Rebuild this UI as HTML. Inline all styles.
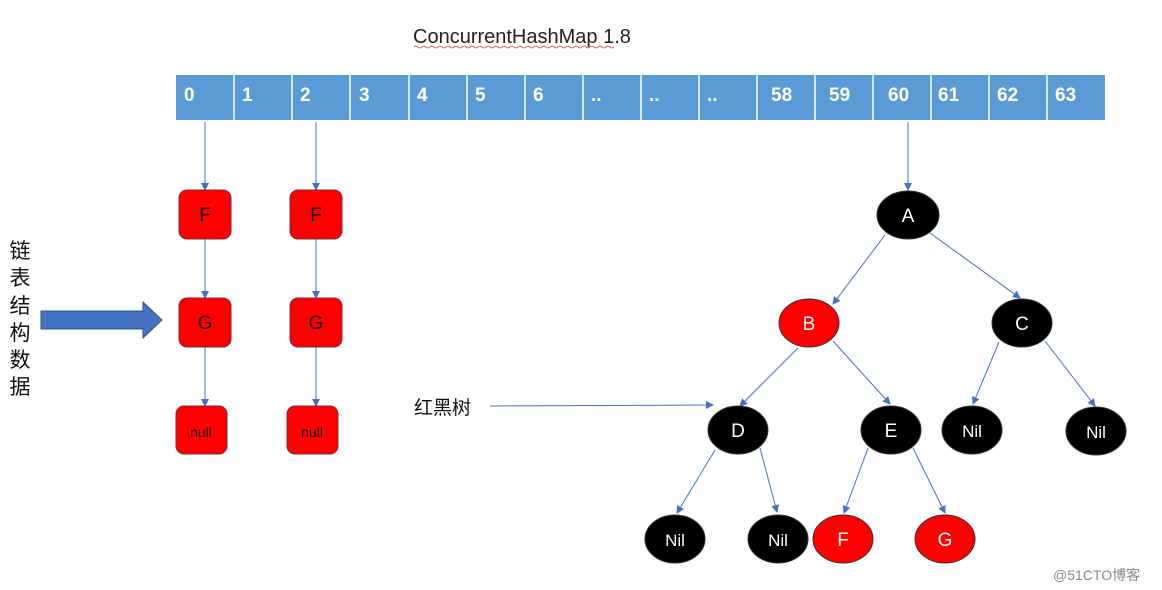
<!DOCTYPE html>
<html><head><meta charset="utf-8"><style>
body{margin:0;background:#fff;width:1162px;height:590px;overflow:hidden;font-family:"Liberation Sans","Noto Sans CJK SC",sans-serif}
</style></head><body>
<svg width="1162" height="590" xmlns="http://www.w3.org/2000/svg" style="position:absolute;left:0;top:0">
<defs><marker id="ar" markerWidth="8" markerHeight="8" refX="7" refY="4" orient="auto" markerUnits="userSpaceOnUse"><path d="M0,0 L8,4 L0,8 z" fill="#4472c4"/></marker></defs>
<text x="413" y="43" font-size="20" fill="#222" font-family="Liberation Sans,sans-serif">ConcurrentHashMap 1.8</text>
<path d="M414,47 q2,-2 4,0 t4,0 t4,0 t4,0 t4,0 t4,0 t4,0 t4,0 t4,0 t4,0 t4,0 t4,0 t4,0 t4,0 t4,0 t4,0 t4,0 t4,0 t4,0 t4,0 t4,0 t4,0 t4,0 t4,0 t4,0 t4,0 t4,0 t4,0 t4,0 t4,0 t4,0 t4,0 t4,0 t4,0 t4,0 t4,0 t4,0 t4,0 t4,0 t4,0 t4,0 t4,0 t4,0 t4,0 t4,0 t4,0 t4,0 t4,0 t4,0 t4,0" stroke="#d33" stroke-width="0.8" fill="none"/>
<g font-weight="bold" font-size="19" fill="#fff">
<rect x="176" y="75" width="929" height="45" fill="#5b9bd5"/>
<g stroke="#fff" stroke-width="1.5">
<line x1="234" y1="75" x2="234" y2="120"/><line x1="292" y1="75" x2="292" y2="120"/><line x1="350" y1="75" x2="350" y2="120"/><line x1="409" y1="75" x2="409" y2="120"/><line x1="467" y1="75" x2="467" y2="120"/><line x1="525" y1="75" x2="525" y2="120"/><line x1="583" y1="75" x2="583" y2="120"/><line x1="641" y1="75" x2="641" y2="120"/><line x1="699" y1="75" x2="699" y2="120"/><line x1="757" y1="75" x2="757" y2="120"/><line x1="815" y1="75" x2="815" y2="120"/><line x1="873" y1="75" x2="873" y2="120"/><line x1="931" y1="75" x2="931" y2="120"/><line x1="989" y1="75" x2="989" y2="120"/><line x1="1047" y1="75" x2="1047" y2="120"/>
</g>
<text x="184" y="101">0</text><text x="242" y="101">1</text><text x="300" y="101">2</text><text x="359" y="101">3</text><text x="417" y="101">4</text><text x="475" y="101">5</text><text x="533" y="101">6</text><text x="591" y="101">..</text><text x="649" y="101">..</text><text x="707" y="101">..</text><text x="771" y="101">58</text><text x="829" y="101">59</text><text x="888" y="101">60</text><text x="938" y="101">61</text><text x="997" y="101">62</text><text x="1055" y="101">63</text>
</g>
<g stroke="#4472c4" stroke-width="1" marker-end="url(#ar)">
<line x1="205" y1="122" x2="205" y2="190"/><line x1="205" y1="239" x2="205" y2="298"/><line x1="205" y1="347" x2="205" y2="406"/>
<line x1="316" y1="122" x2="316" y2="190"/><line x1="316" y1="239" x2="316" y2="298"/><line x1="316" y1="347" x2="316" y2="406"/>
<line x1="908" y1="122" x2="908" y2="190"/>
<line x1="490" y1="406" x2="713" y2="405"/>
<line x1="885" y1="235" x2="833" y2="304"/><line x1="930" y1="233" x2="1020" y2="298"/>
<line x1="798" y1="348" x2="740" y2="406"/><line x1="833" y1="341" x2="890" y2="404"/>
<line x1="715" y1="450" x2="677" y2="513"/><line x1="760" y1="448" x2="777" y2="512"/>
<line x1="868" y1="448" x2="844" y2="513"/><line x1="913" y1="448" x2="945" y2="513"/>
<line x1="999" y1="342" x2="973" y2="404"/><line x1="1045" y1="341" x2="1095" y2="406"/>
</g>
<g fill="#ff0000" stroke="#7a2a3a" stroke-width="1">
<rect x="179" y="190" width="52" height="49" rx="8"/><rect x="179" y="298" width="52" height="49" rx="8"/><rect x="176" y="406" width="51" height="48" rx="8"/>
<rect x="290" y="190" width="52" height="49" rx="8"/><rect x="290" y="298" width="52" height="49" rx="8"/><rect x="287" y="406" width="51" height="48" rx="8"/>
</g>
<g font-size="19" fill="#111" text-anchor="middle">
<text x="205" y="221">F</text><text x="205" y="329">G</text><text x="316" y="221">F</text><text x="316" y="329">G</text>
<text x="201" y="437" font-size="14">null</text><text x="312" y="437" font-size="14">null</text>
</g>
<g stroke="#333" stroke-width="1">
<ellipse cx="908" cy="215" rx="31" ry="24" fill="#000"/>
<ellipse cx="809" cy="323" rx="30" ry="24" fill="#ff0000"/>
<ellipse cx="1022" cy="323" rx="30" ry="24" fill="#000"/>
<ellipse cx="738" cy="430" rx="30" ry="24" fill="#000"/>
<ellipse cx="891" cy="430" rx="30" ry="24" fill="#000"/>
<ellipse cx="972" cy="430" rx="30" ry="24" fill="#000"/>
<ellipse cx="1096" cy="431" rx="30" ry="24" fill="#000"/>
<ellipse cx="675" cy="539" rx="30" ry="24" fill="#000"/>
<ellipse cx="778" cy="539" rx="30" ry="24" fill="#000"/>
<ellipse cx="843" cy="539" rx="30" ry="24" fill="#ff0000"/>
<ellipse cx="945" cy="539" rx="30" ry="24" fill="#ff0000"/>
</g>
<g font-size="19" fill="#fff" text-anchor="middle">
<text x="908" y="222">A</text><text x="809" y="330">B</text><text x="1022" y="330">C</text><text x="738" y="437">D</text><text x="891" y="437">E</text>
<text x="972" y="437" font-size="17">Nil</text><text x="1096" y="438" font-size="17">Nil</text><text x="675" y="546" font-size="17">Nil</text><text x="778" y="546" font-size="17">Nil</text>
<text x="843" y="546">F</text><text x="945" y="546">G</text>
</g>
<path d="M41,311 L143,311 L143,302 L162,320 L143,338 L143,329 L41,329 z" fill="#4472c4" stroke="#2f528f" stroke-width="1"/>
<g font-size="21" fill="#111" font-family="Noto Sans CJK SC,sans-serif" text-anchor="middle">
<text x="20" y="258">链</text><text x="20" y="285">表</text><text x="20" y="313">结</text><text x="20" y="340">构</text><text x="20" y="367">数</text><text x="20" y="394">据</text>
</g>
<text x="414" y="414" font-size="19" fill="#111" font-family="Noto Sans CJK SC,sans-serif">红黑树</text>
<text x="1053" y="580" font-size="14" fill="#888" font-family="Liberation Sans,Noto Sans CJK SC,sans-serif">@51CTO博客</text>
</svg>
</body></html>
